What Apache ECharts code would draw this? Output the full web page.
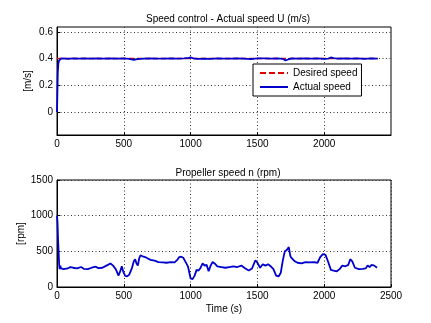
<!DOCTYPE html>
<html><head><meta charset="utf-8">
<script src="https://cdn.jsdelivr.net/npm/echarts@6/dist/echarts.min.js"></script>
<style>html,body{margin:0;padding:0;background:#fff}#c{width:431px;height:323px}</style>
</head><body><div id="c"></div>
<script>
const speedTime = [0,3,6,10,15,20,30,50,80,120,160,200,250,300,350,400,450,500,540,575,600,650,700,750,800,850,900,950,985,1000,1020,1050,1100,1150,1200,1250,1300,1350,1400,1450,1500,1550,1600,1650,1690,1710,1730,1760,1800,1850,1900,1950,2000,2030,2050,2070,2100,2150,2200,2250,2300,2350,2400];
const actualSpeed = [0,0.15,0.3,0.36,0.385,0.395,0.4,0.402,0.398,0.402,0.4,0.401,0.399,0.402,0.4,0.401,0.399,0.402,0.398,0.39,0.396,0.4,0.401,0.399,0.4,0.402,0.399,0.401,0.405,0.408,0.402,0.397,0.4,0.398,0.402,0.4,0.399,0.401,0.4,0.396,0.401,0.402,0.4,0.401,0.398,0.386,0.393,0.402,0.4,0.401,0.399,0.402,0.398,0.4,0.408,0.403,0.399,0.401,0.4,0.402,0.398,0.401,0.4];
const desiredTime = [0,2400];
const desiredSpeed = [0.4,0.4];
const rpmTime = [0,4,8,12,16,20,25,30,40,50,60,80,100,120,150,180,200,230,260,290,310,340,370,400,420,440,460,475,485,495,510,525,540,560,575,585,595,605,615,625,640,660,680,700,730,760,790,820,850,880,900,915,930,945,960,980,1000,1015,1030,1045,1060,1075,1090,1105,1120,1135,1150,1165,1180,1200,1230,1260,1290,1320,1350,1380,1410,1435,1460,1485,1500,1520,1540,1560,1580,1600,1620,1640,1660,1675,1690,1705,1720,1735,1745,1750,1760,1780,1800,1830,1860,1890,1920,1950,1970,1990,2010,2030,2050,2070,2095,2115,2135,2160,2180,2195,2210,2230,2260,2290,2310,2325,2340,2355,2375,2395];
const rpm = [1000,900,650,500,320,250,300,260,280,250,270,260,280,270,260,280,255,250,270,285,265,270,300,330,300,250,160,230,290,220,155,150,170,260,360,390,330,300,400,445,430,420,400,380,370,350,345,340,350,345,380,420,425,410,360,290,120,110,160,240,230,270,330,300,310,220,300,350,330,290,280,270,280,290,280,300,260,230,260,375,340,270,320,300,320,290,250,160,150,200,370,500,520,560,450,420,400,360,340,330,350,345,350,340,420,460,450,350,240,230,220,250,300,290,310,390,360,270,250,255,260,300,280,310,300,270];
const speedTicks = [0,0.2,0.4,0.6];
const rpmTicks = [0,500,1000,1500];
const timeTicksTop = [0,500,1000,1500,2000];
const timeTicksBottom = [0,500,1000,1500,2000,2500];

const zip = (a,b)=>a.map((v,i)=>[v,b[i]]);
const font = 'Liberation Sans, Arial, sans-serif';
const fs = 10;
const gridLine = {show:true,lineStyle:{color:'#333',type:[1,2.5],width:1}};
const chart = echarts.init(document.getElementById('c'));
function xAxis(idx, ticks, name){
  return {type:'value',gridIndex:idx,min:0,max:2500,
    name:name||'',nameLocation:'middle',nameGap:17,nameMoveOverlap:false,nameTextStyle:{color:'#000',fontSize:fs,fontFamily:font},
    axisLine:{show:true,onZero:false,lineStyle:{color:'#000'}},
    axisTick:{show:true,inside:true,length:3,customValues:ticks,lineStyle:{color:'#000'}},
    axisLabel:{customValues:ticks,color:'#000',fontSize:fs,fontFamily:font,margin:4,formatter:v=>String(v)},
    splitLine:gridLine};
}
function yAxis(idx, min, max, ticks, name, gap){
  return {type:'value',gridIndex:idx,min:min,max:max,
    name:name,nameLocation:'middle',nameGap:gap,nameRotate:90,nameMoveOverlap:false,nameTextStyle:{color:'#000',fontSize:fs,fontFamily:font},
    axisLine:{show:true,onZero:false,lineStyle:{color:'#000'}},
    axisTick:{show:true,inside:true,length:3,customValues:ticks,lineStyle:{color:'#000'}},
    axisLabel:{customValues:ticks,color:'#000',fontSize:fs,fontFamily:font,margin:4,formatter:v=>String(v)},
    splitLine:gridLine};
}
const dashIcon = 'path://M0,0h6v2h-6z M9,0h6v2h-6z M18,0h6v2h-6z M27,0h1v2h-1z';
const solidIcon = 'path://M0,0h28v2h-28z';
chart.setOption({
  backgroundColor:'#fff',
  animation:false,
  title:[
    {text:'Speed control - Actual speed U (m/s)',left:223,top:9,textAlign:'center',textStyle:{fontSize:10,fontWeight:'normal',color:'#000',fontFamily:font}},
    {text:'Propeller speed n (rpm)',left:223,top:163,textAlign:'center',textStyle:{fontSize:10,fontWeight:'normal',color:'#000',fontFamily:font}}
  ],
  grid:[
    {left:57,top:27,width:334,height:108,show:true,borderColor:'#000',borderWidth:1,backgroundColor:'#fff'},
    {left:57,top:180,width:334,height:107,show:true,borderColor:'#000',borderWidth:1,backgroundColor:'#fff'}
  ],
  xAxis:[xAxis(0,timeTicksTop), xAxis(1,timeTicksBottom,'Time (s)')],
  yAxis:[
    yAxis(0,-0.172,0.636,speedTicks,'[m/s]',24),
    yAxis(1,0,1500,rpmTicks,'[rpm]',31)
  ],
  legend:{left:253,top:64,orient:'vertical',itemWidth:28,itemHeight:2,itemGap:4,symbolKeepAspect:false,
    padding:[4,4,4,7],backgroundColor:'#fff',borderColor:'#000',borderWidth:1,
    textStyle:{fontSize:fs,fontFamily:font,color:'#000'},
    data:[{name:'Desired speed',icon:dashIcon},{name:'Actual speed',icon:solidIcon}]},
  series:[
    {name:'Desired speed',type:'line',xAxisIndex:0,yAxisIndex:0,data:zip(desiredTime,desiredSpeed),symbol:'none',
      lineStyle:{color:'#e00000',width:1.5,type:[5,3]},itemStyle:{color:'#e00000'},z:2},
    {name:'Actual speed',type:'line',xAxisIndex:0,yAxisIndex:0,data:zip(speedTime,actualSpeed),symbol:'none',
      lineStyle:{color:'#0000cc',width:1.8},itemStyle:{color:'#0000cc'},z:3},
    {name:'rpm',type:'line',xAxisIndex:1,yAxisIndex:1,data:zip(rpmTime,rpm),symbol:'none',
      lineStyle:{color:'#0000cc',width:1.8},itemStyle:{color:'#0000cc'}}
  ]
});
</script></body></html>
